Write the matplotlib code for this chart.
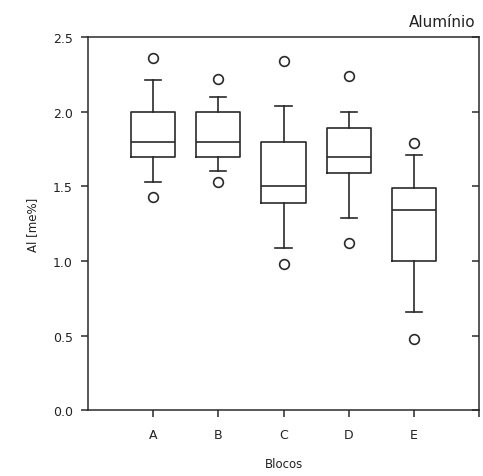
import matplotlib
matplotlib.use("Agg")
import matplotlib.pyplot as plt

categories = ["A", "B", "C", "D", "E"]
q1 = [1.70, 1.70, 1.39, 1.59, 1.00]
med = [1.80, 1.80, 1.50, 1.70, 1.34]
q3 = [2.00, 2.00, 1.80, 1.89, 1.49]
whislo = [1.53, 1.60, 1.09, 1.29, 0.66]
whishi = [2.21, 2.10, 2.04, 2.00, 1.71]
fliers = [[2.36, 1.43], [2.22, 1.53], [2.34, 0.98], [2.24, 1.12], [1.79, 0.48]]
yticks = [0.0, 0.5, 1.0, 1.5, 2.0, 2.5]

stats = []
for i, c in enumerate(categories):
    stats.append(dict(label=c, q1=q1[i], med=med[i], q3=q3[i],
                      whislo=whislo[i], whishi=whishi[i], fliers=fliers[i]))

fig = plt.figure(figsize=(4.83, 4.77), dpi=100)
ax = fig.add_axes([0.182, 0.138, 0.810, 0.782])
col = "#2a2a2a"
lw = 1.2
ax.bxp(stats, positions=range(1, 6), widths=0.68, capwidths=0.25,
       boxprops=dict(color=col, linewidth=lw),
       medianprops=dict(color=col, linewidth=lw),
       whiskerprops=dict(color=col, linewidth=lw),
       capprops=dict(color=col, linewidth=lw),
       flierprops=dict(marker="o", markersize=7, markerfacecolor="none",
                       markeredgecolor=col, markeredgewidth=1.2))
ax.set_xlim(0, 6)
ax.set_ylim(0, 2.5)
ax.set_xticks(range(1, 7))
ax.set_xticklabels(categories + [""])
ax.set_yticks(yticks)
ax.set_yticklabels([f"{v:.1f}" for v in yticks])
for s in ax.spines.values():
    s.set_color(col)
    s.set_linewidth(1.1)
ax.tick_params(axis="both", direction="out", length=5, width=1.1, color=col,
               labelsize=9, labelcolor="#222222")
ax.tick_params(axis="x", pad=8)
ax.tick_params(axis="y", pad=6)

sec = ax.secondary_yaxis("right")
sec.set_yticks(yticks)
sec.tick_params(direction="in", length=5, width=1.1, color=col, labelright=False)
sec.spines["right"].set_visible(False)

ax.set_xlabel("Blocos", fontsize=8.5, labelpad=11, color="#222222")
ax.set_ylabel("Al [me%]", fontsize=8.5, labelpad=10, color="#222222")
fig.text(0.984, 0.938, "Alumínio", ha="right", va="bottom", fontsize=11, color="#222222")
fig.savefig("out.png", dpi=100)
